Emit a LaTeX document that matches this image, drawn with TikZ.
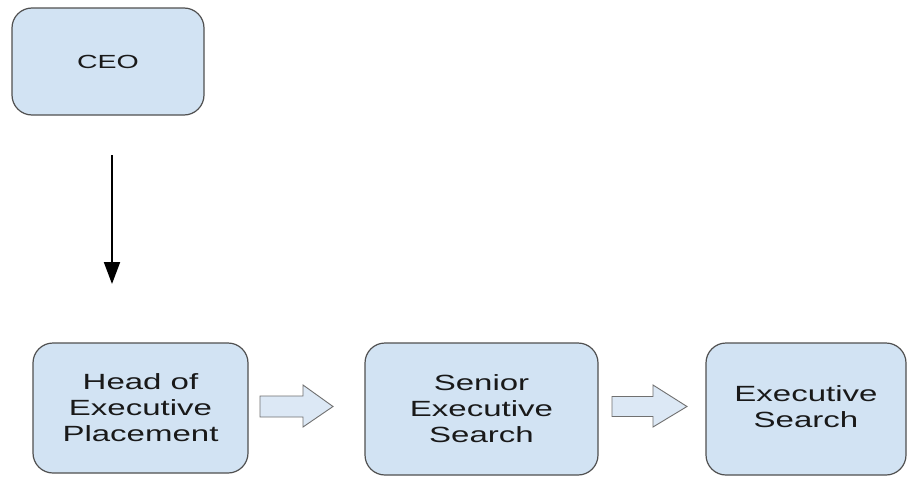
\documentclass[tikz,border=0pt]{standalone}
\usepackage{fontspec}
\setmainfont[FakeStretch=1.5]{Liberation Sans}
\usetikzlibrary{arrows.meta}
\definecolor{boxfill}{HTML}{D2E3F3}
\definecolor{boxline}{HTML}{505050}
\definecolor{arrfill}{HTML}{DCE8F5}
\definecolor{arrline}{HTML}{707070}
\tikzset{
  orgbox/.style={draw=boxline, line width=1.2pt, fill=boxfill, rounded corners=20pt,
    align=center, font=\fontsize{22}{26}\selectfont, text=black!90, inner sep=0pt},
  blockarrow/.style={draw=arrline, line width=0.9pt, fill=arrfill, line join=miter},
  linkarrow/.style={-{Triangle[width=16pt,length=22pt]}, line width=2pt, black}
}
\begin{document}
\begin{tikzpicture}[x=1pt,y=-1pt]
\useasboundingbox[fill=white] (0,0) rectangle (907,479);
\node[orgbox, minimum width=192pt, minimum height=107pt, font=\fontsize{19}{23}\selectfont] (ceo) at (108,61.5) {CEO};
\node[orgbox, minimum width=215pt, minimum height=130pt] (head) at (140.5,408) {Head of\\Executive\\Placement};
\node[orgbox, minimum width=233pt, minimum height=132pt] (senior) at (481.5,409) {Senior\\Executive\\Search};
\node[orgbox, minimum width=200pt, minimum height=132pt] (exec) at (806,409) {\raisebox{-5pt}{\begin{tabular}{@{}c@{}}Executive\\Search\end{tabular}}};
\coordinate (a1) at (112,155);
\coordinate (a2) at (112,284);
\draw[linkarrow] (a1) -- (a2);
\draw[blockarrow] (260,396) -- (303,396) -- (303,385) -- (333,406.5) -- (303,427) -- (303,417) -- (260,417) -- cycle;
\draw[blockarrow] (612,396.5) -- (653,396.5) -- (653,385) -- (687,406.5) -- (653,427) -- (653,416.5) -- (612,416.5) -- cycle;
\end{tikzpicture}
\end{document}
